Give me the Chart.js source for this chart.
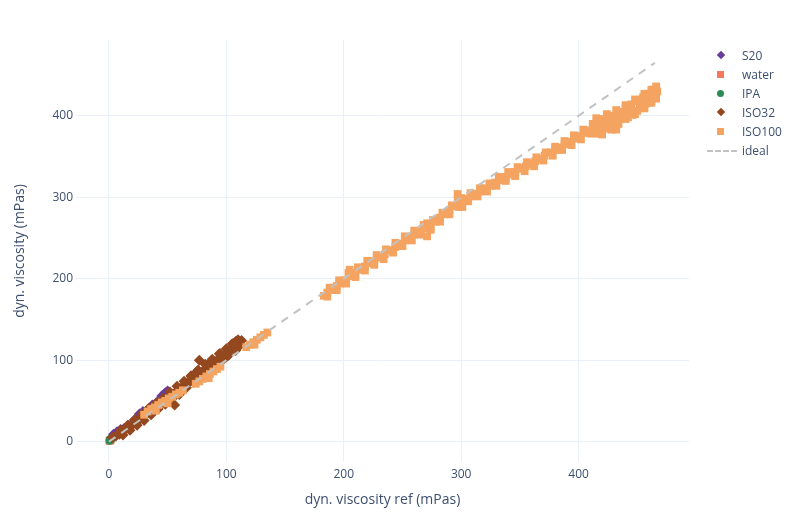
<!DOCTYPE html>
<html>
<head>
<meta charset="utf-8">
<script src="https://cdn.jsdelivr.net/npm/chart.js@4/dist/chart.umd.min.js"></script>
<style>
    body { margin: 0; background: #fff; }
    .wrap { position: relative; width: 797px; height: 519px; }
    .legend { position: absolute; left: 704px; top: 46px; font-family: "Open Sans", sans-serif; font-size: 12px; color: #3d4f6e; }
    .legend div { height: 19px; line-height: 19px; position: relative; padding-left: 38px; }
    .legend i { position: absolute; left: 13px; top: 6px; width: 7px; height: 7px; }
    .legend i.dia { transform: rotate(45deg); width: 6px; height: 6px; top: 6px; left: 14px; }
    .legend i.cir { border-radius: 50%; }
    .legend i.dash { left: 3px; top: 9px; width: 30px; height: 0; border-top: 2px dashed #c2c2c2; }
</style>
</head>
<body>
<div class="wrap">
    <canvas id="c" width="797" height="519"></canvas>
    <div class="legend" id="legend"></div>
</div>
<script>
    // series names / colours / marker shapes
    const seriesNames = ['S20', 'water', 'IPA', 'ISO32', 'ISO100'];
    const seriesColors = ['#6a3d9a', '#f7785d', '#2e8b57', '#94481f', '#f4a460'];
    const seriesShapes = ['rectRot', 'rect', 'circle', 'rectRot', 'rect'];

    // S20 (x = ref, y = measured)
    const s20X = [3, 4, 7, 10, 13, 17, 22, 26, 29, 32, 37, 42, 45, 48, 50];
    const s20Y = [5, 9, 12, 15, 16, 20, 27, 34, 37, 38, 45, 50, 56, 60, 62];

    // water
    const waterX = [0.5, 1, 1.5];
    const waterY = [1, 1.5, 2];

    // IPA
    const ipaX = [0.5, 1, 2, 3, 1.5];
    const ipaY = [1, 2, 3, 4, 3.5];

    // ISO32
    const iso32X = [3, 6, 9, 12, 15, 18, 21, 24, 27, 30, 33, 36, 39, 42, 45, 48, 51, 54, 57, 60, 63, 66, 69, 72, 75, 78, 81, 84, 87, 90, 93, 96, 99, 102, 105, 108, 111, 113,
        60, 65, 70, 75, 80, 85, 90, 95, 95, 100, 105, 110, 108, 77, 56,
        10, 16, 22, 28, 34, 40, 46, 52, 58, 64, 70, 76, 82, 88, 94, 100, 106, 110,
        12, 18, 24, 30, 36, 42, 48, 54, 60, 66, 72, 78, 84, 90, 96, 102, 108];
    const iso32Y = [5, 7, 9, 13, 16, 19, 22, 25, 28, 31, 35, 38, 41, 45, 48, 51, 55, 58, 61, 64, 68, 71, 74, 78, 81, 84, 88, 91, 94, 98, 101, 104, 108, 111, 114, 118, 121, 124,
        58, 66, 80, 86, 82, 96, 92, 108, 99, 104, 120, 116, 123, 100, 45,
        14, 20, 27, 34, 41, 47, 53, 61, 68, 74, 81, 88, 95, 101, 108, 114, 120, 125,
        8, 14, 20, 26, 33, 40, 46, 53, 59, 66, 73, 79, 86, 93, 99, 106, 112];

    // ISO100
    const iso100X = [30, 33, 36, 39, 42, 45, 48, 51, 54, 57, 60, 63, 40, 50,
        74, 77, 80, 83, 86, 89, 92, 95, 85,
        117, 120, 123, 126, 129, 132, 135, 124,
        183, 186, 190, 194, 197, 201, 205, 205, 209, 214, 218, 222, 226, 231, 235, 240, 244, 248, 252, 256, 260, 265, 268, 271, 271, 274, 278, 282, 286, 290, 294,
        297, 297, 299, 301, 304, 308, 312, 316, 320, 325, 329, 333, 338, 342, 346, 350, 355, 359, 363, 367, 371, 376, 380, 384, 388, 392, 397, 401, 405, 409, 413,
        416, 418, 420, 422, 424, 427, 430, 432, 434, 436, 440, 442, 445, 447, 450, 452, 455, 457, 460, 462, 464, 466, 467,
        188, 196, 204, 212, 220, 228, 236, 244, 252, 260, 268, 276, 284, 292, 300, 308, 316, 324, 332, 340, 348, 356, 364, 372, 380, 388, 396, 404, 412,
        186, 194, 202, 210, 218, 226, 234, 242, 250, 258, 266, 274, 282, 290, 298, 306, 314, 322, 330, 338, 346, 354, 362, 370, 378, 386, 394, 402, 410,
        415, 424, 432, 440, 448, 456, 462, 466, 416, 424, 432, 440, 448, 456, 462, 466,
        418, 426, 428, 430, 434, 438, 442, 444, 446, 450, 454, 456, 458, 460, 463, 464];
    const iso100Y = [33, 37, 40, 42, 45, 48, 50, 53, 55, 58, 60, 63, 38, 47,
        71, 74, 77, 80, 83, 86, 89, 92, 78,
        116, 119, 122, 125, 128, 131, 134, 119,
        179, 183, 186, 191, 194, 198, 203, 211, 207, 211, 215, 219, 222, 226, 230, 235, 239, 243, 247, 250, 254, 258, 262, 252, 268, 262, 270, 275, 279, 284, 289,
        297, 304, 293, 288, 298, 301, 304, 307, 311, 314, 318, 321, 325, 328, 331, 335, 338, 341, 344, 347, 351, 355, 358, 361, 365, 368, 372, 375, 379, 382, 386,
        392, 386, 377, 395, 387, 399, 392, 383, 405, 397, 410, 402, 414, 406, 418, 411, 423, 415, 427, 420, 432, 425, 430,
        189, 198, 207, 214, 222, 229, 236, 244, 252, 259, 266, 272, 281, 290, 299, 305, 311, 317, 325, 331, 337, 343, 349, 355, 362, 369, 376, 383, 390,
        178, 186, 194, 202, 210, 217, 224, 232, 240, 247, 254, 260, 270, 279, 288, 295, 301, 307, 314, 320, 326, 332, 338, 345, 351, 358, 364, 371, 378,
        397, 402, 407, 413, 420, 427, 432, 436, 378, 384, 389, 396, 402, 409, 416, 421,
        396, 390, 383, 400, 390, 404, 398, 410, 401, 406, 420, 411, 424, 416, 428, 422];

    // ideal line
    const idealX = [0, 465];
    const idealY = [0, 465];

    const xTicks = [0, 100, 200, 300, 400];
    const yTicks = [0, 100, 200, 300, 400];

    function pts(xs, ys) {
        return xs.map((x, i) => ({ x: x, y: ys[i] }));
    }

    const allX = [s20X, waterX, ipaX, iso32X, iso100X];
    const allY = [s20Y, waterY, ipaY, iso32Y, iso100Y];

    var datasets = seriesNames.map((name, i) => ({
        label: name,
        data: pts(allX[i], allY[i]),
        backgroundColor: seriesColors[i],
        borderWidth: 0,
        pointStyle: seriesShapes[i],
        pointRadius: seriesShapes[i] === 'circle' ? 4 : 5.5,
        order: 10 - i
    }));
    datasets.push({
        label: 'ideal',
        data: pts(idealX, idealY),
        showLine: true,
        borderColor: '#c2c2c2',
        borderWidth: 2,
        borderDash: [8, 7],
        pointRadius: 0,
        order: 0
    });

    const textColor = '#3d4f6e';
    const gridColor = '#ebf0f8';

    new Chart(document.getElementById('c'), {
        type: 'scatter',
        data: { datasets: datasets },
        options: {
            responsive: false,
            animation: false,
            devicePixelRatio: 1,
            layout: { padding: { top: 40, right: 108, left: 0, bottom: 0 } },
            plugins: { legend: { display: false }, tooltip: { enabled: false } },
            scales: {
                x: {
                    type: 'linear',
                    min: -28,
                    max: 494,
                    afterBuildTicks: s => { s.ticks = xTicks.map(v => ({ value: v })); },
                    afterFit: s => { s.height = 57; },
                    grid: { color: gridColor, drawTicks: false },
                    border: { display: false },
                    ticks: { color: textColor, padding: 5, font: { family: 'Open Sans', size: 12 } },
                    title: {
                        display: true,
                        text: 'dyn. viscosity ref (mPas)',
                        color: textColor,
                        padding: { top: 0, bottom: 10.5 },
                        font: { family: 'Open Sans', size: 14 }
                    }
                },
                y: {
                    type: 'linear',
                    min: -25,
                    max: 493,
                    afterBuildTicks: s => { s.ticks = yTicks.map(v => ({ value: v })); },
                    afterFit: s => { s.width = 76; },
                    grid: { color: gridColor, drawTicks: false },
                    border: { display: false },
                    ticks: { color: textColor, padding: 3, font: { family: 'Open Sans', size: 12 } },
                    title: {
                        display: true,
                        text: 'dyn. viscosity (mPas)',
                        color: textColor,
                        padding: { top: 12, bottom: 0 },
                        font: { family: 'Open Sans', size: 14 }
                    }
                }
            }
        }
    });

    // legend
    var legendHTML = '';
    seriesNames.forEach((name, i) => {
        var cls = seriesShapes[i] === 'rectRot' ? 'dia' : (seriesShapes[i] === 'circle' ? 'cir' : '');
        legendHTML += `<div><i class="${cls}" style="background:${seriesColors[i]}"></i>${name}</div>`;
    });
    legendHTML += '<div><i class="dash"></i>ideal</div>';
    document.getElementById('legend').innerHTML = legendHTML;
</script>
</body>
</html>
